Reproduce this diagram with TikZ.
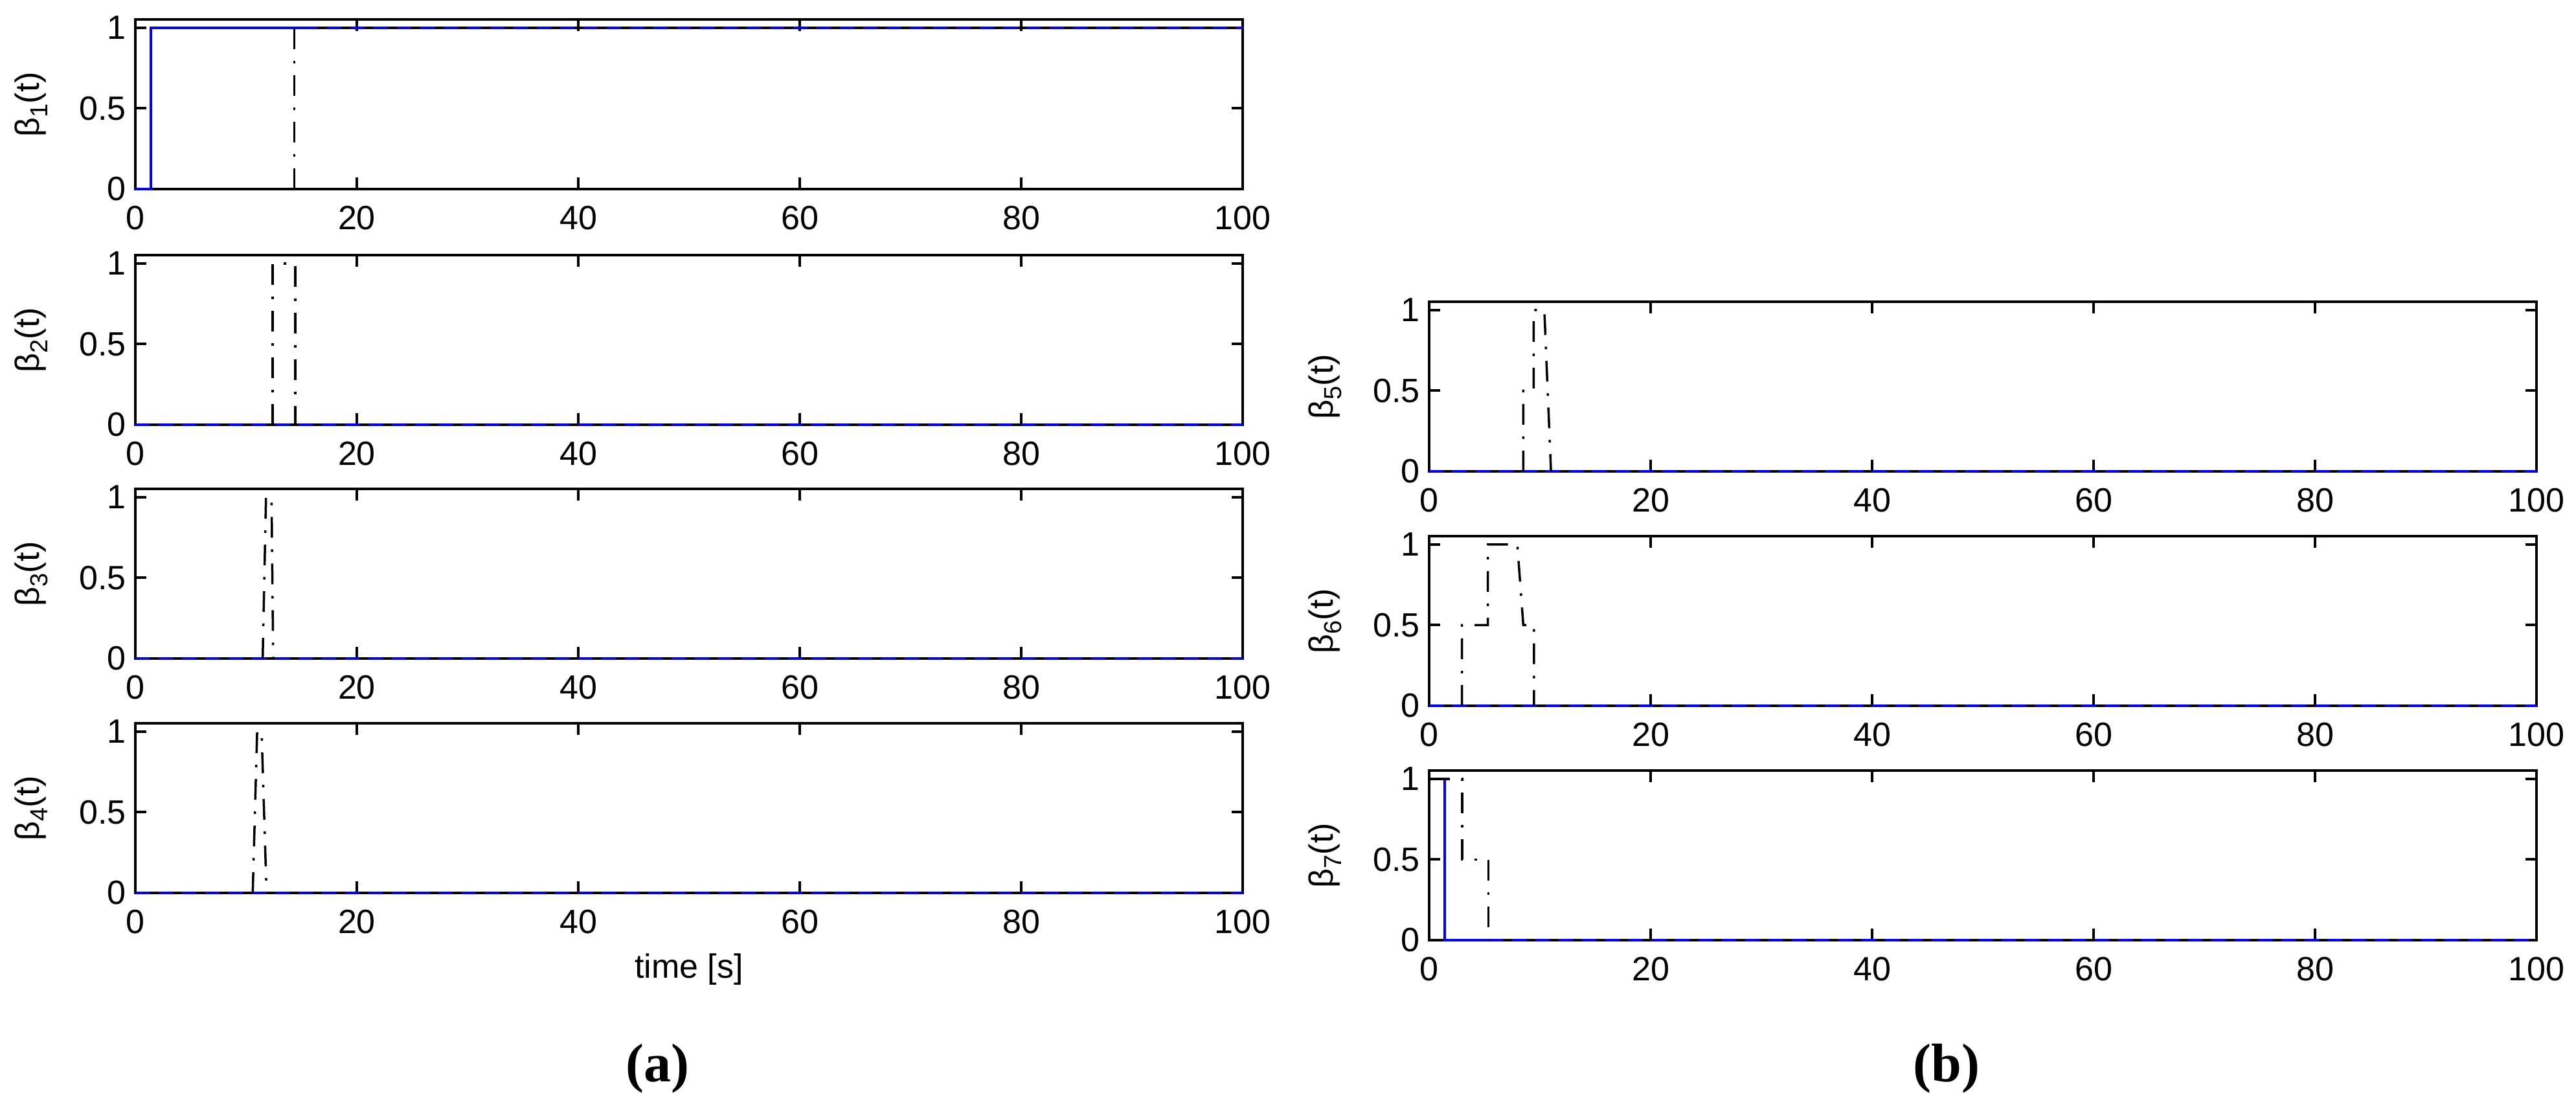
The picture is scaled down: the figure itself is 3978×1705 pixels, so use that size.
\documentclass[tikz,border=0pt]{standalone}
\usepackage{fontspec}
\setmainfont{Liberation Sans}
\newfontfamily\capfont{Liberation Serif}
\definecolor{mblue}{RGB}{0,0,255}
\tikzset{
  ax/.style 2 args={shift={(#1pt,#2pt)},x=17.1pt,y=249pt},
  frame/.style={line width=4pt,black},
  tick/.style={line width=4pt,black},
  ticklab/.style={font=\fontsize{52}{60}\selectfont,inner sep=0pt},
  ylab/.style={font=\fontsize{52}{60}\selectfont,rotate=90,inner sep=0pt},
  bdd/.style={black,line width=3.5pt,dash pattern=on 32pt off 18pt on 4pt off 18pt},
  bsol/.style={black,line width=3.5pt},
  blsol/.style={mblue,line width=4pt},
  bldash/.style={mblue,line width=4pt,dash pattern=on 22pt off 14pt},
  pcap/.style={font=\capfont\bfseries\fontsize{84}{90}\selectfont,inner sep=0pt}
}
\newcommand\axframe[2]{%
  \draw[frame] (0,0) rectangle (100,1.052);
  \foreach \t in {0,20,...,100}{
    \draw[tick] (\t,0) -- ++(0,18pt);
    \draw[tick] (\t,1.052) -- ++(0,-18pt);
    \node[ticklab] (#1x\t) at ([yshift=-45pt]\t,0) {\t};
  }
  \foreach \v/\s in {0/0,0.5/05,1/1}{
    \draw[tick] (0,\v) -- ++(17pt,0);
    \draw[tick] (100,\v) -- ++(-17pt,0);
    \node[ticklab,anchor=east] (#1y\s) at ([xshift=-14pt]0,\v) {\v};
  }
  \node[ylab] (#1lab) at ([xshift=-161pt]0,0.526) {β\raisebox{-13pt}{\fontsize{38}{40}\selectfont #2}(t)};
}
\begin{document}
\begin{tikzpicture}[x=1pt,y=1pt]
\useasboundingbox (0,0) rectangle (3978,1705);
% (a)
\begin{scope}[ax={209}{1413}]
  \axframe{p1}{1}
  \draw[blsol] (0,0) -- (1.4,0) -- (1.4,1) -- (15.2,1);
  \draw[bdd] (14.37,0) -- (14.37,1);
  \draw[bsol] (15.2,1) -- (100,1);
  \draw[bldash] (15.2,1) -- (100,1);
\end{scope}
\begin{scope}[ax={209}{1049}]
  \axframe{p2}{2}
  \draw[bldash] (0,0) -- (100,0);
  \draw[bdd] (12.4,0) -- (12.4,1) -- (14.45,1) -- (14.45,0);
\end{scope}
\begin{scope}[ax={209}{688}]
  \axframe{p3}{3}
  \draw[bldash] (0,0) -- (100,0);
  \draw[bdd] (11.5,0) -- (11.8,1) -- (12.3,1) -- (12.45,0);
\end{scope}
\begin{scope}[ax={209}{326}]
  \axframe{p4}{4}
  \draw[bldash] (0,0) -- (100,0);
  \draw[bdd] (10.6,0) -- (11.0,1) -- (11.4,1) -- (11.85,0);
\end{scope}
\node[font=\fontsize{52}{60}\selectfont] (tlab) at (1064,208) {time [s]};
\node[pcap] (capa) at (1015,55) {(a)};
% (b)
\begin{scope}[ax={2207}{977}]
  \axframe{p5}{5}
  \draw[bldash] (0,0) -- (100,0);
  \draw[bdd] (8.5,0) -- (8.5,0.5) -- (9.43,0.5) -- (9.43,1) -- (10.4,1) -- (11,0);
\end{scope}
\begin{scope}[ax={2207}{615}]
  \axframe{p6}{6}
  \draw[bldash] (0,0) -- (100,0);
  \draw[bdd] (2.96,0) -- (2.96,0.5) -- (5.3,0.5) -- (5.3,1) -- (7.96,1) -- (8.5,0.5) -- (9.47,0.5) -- (9.47,0);
\end{scope}
\begin{scope}[ax={2207}{253}]
  \axframe{p7}{7}
  \draw[blsol] (0,1) -- (1.43,1) -- (1.43,0) -- (5.35,0);
  \draw[bldash] (5.35,0) -- (100,0);
  \draw[bdd] (0,1) -- (2.98,1) -- (2.98,0.5) -- (5.35,0.5) -- (5.35,0);
\end{scope}
\node[pcap] (capb) at (3006,55) {(b)};
\end{tikzpicture}
\end{document}
